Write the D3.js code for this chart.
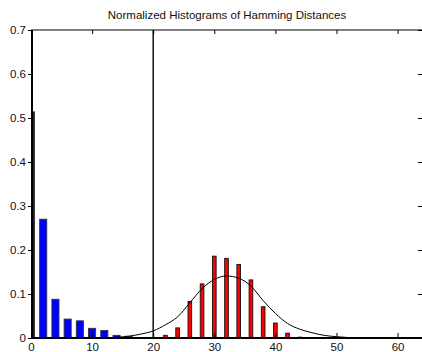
<!doctype html>
<html lang="en">
<head>
<meta charset="UTF-8">
<title>Normalized Histograms of Hamming Distances</title>
<script src="https://cdn.jsdelivr.net/npm/d3@7"></script>
<style>
    body { margin: 0; background: #fff; }
    text { font-family: "Liberation Sans", Arial, Helvetica, sans-serif; fill: #111; }
</style>
</head>
<body>
<div id="chartDiv"></div>
<script>
// same-class distances (blue)
const blueBins = [0, 2, 4, 6, 8, 10, 12, 14, 16, 18]
const blueVals = [0.514, 0.27, 0.088, 0.043, 0.039, 0.022, 0.017, 0.006, 0.004, 0.001]

// different-class distances (red)
const redBins = [22, 24, 26, 28, 30, 32, 34, 36, 38, 40, 42, 44]
const redVals = [0.006, 0.023, 0.083, 0.123, 0.186, 0.181, 0.167, 0.132, 0.071, 0.034, 0.011, 0.002]

// fitted curve
const curveX = [14, 16, 18, 20, 22, 24, 26, 28, 30, 32, 34, 36, 38, 40, 42, 44, 46, 48, 50, 52, 54]
const curveY = [0.002, 0.004, 0.009, 0.016, 0.03, 0.048, 0.08, 0.112, 0.133, 0.141, 0.136, 0.118, 0.085, 0.056, 0.033, 0.02, 0.012, 0.006, 0.003, 0.001, 0]

const threshold = 20
const xTicks = [0, 10, 20, 30, 40, 50, 60]
const yTicks = [0, 0.1, 0.2, 0.3, 0.4, 0.5, 0.6, 0.7]
const title = 'Normalized Histograms of Hamming Distances'

const svgWidth = 422, svgHeight = 352
const plotLeft = 31, plotRight = 422, plotTop = 30, plotBottom = 338

const svg = d3.select('#chartDiv').append('svg')
    .attr('width', svgWidth)
    .attr('height', svgHeight)

const x = d3.scaleLinear().domain([0, 64]).range([plotLeft, plotRight])
const y = d3.scaleLinear().domain([0, 0.7]).range([plotBottom, plotTop])

svg.append('clipPath').attr('id', 'plotClip')
    .append('rect')
    .attr('x', plotLeft).attr('y', plotTop)
    .attr('width', plotRight - plotLeft).attr('height', plotBottom - plotTop)

const plot = svg.append('g').attr('clip-path', 'url(#plotClip)')

// blue bars
plot.selectAll('.blueBar')
    .data(blueBins)
    .join('rect')
    .attr('class', 'blueBar')
    .attr('x', (d) => x(d - 0.58))
    .attr('width', x(1.16) - x(0))
    .attr('y', (d, i) => y(blueVals[i]))
    .attr('height', (d, i) => y(0) - y(blueVals[i]))
    .attr('fill', '#0000ff')
    .attr('stroke', '#333')
    .attr('stroke-width', 0.9)

// red bars
plot.selectAll('.redBar')
    .data(redBins)
    .join('rect')
    .attr('class', 'redBar')
    .attr('x', (d) => x(d - 0.3))
    .attr('width', x(0.6) - x(0))
    .attr('y', (d, i) => y(redVals[i]))
    .attr('height', (d, i) => y(0) - y(redVals[i]))
    .attr('fill', '#ff0000')
    .attr('stroke', '#111')
    .attr('stroke-width', 0.9)

// curve
const line = d3.line()
    .x((d) => x(d[0]))
    .y((d) => y(d[1]))
    .curve(d3.curveMonotoneX)

plot.append('path')
    .datum(curveX.map((d, i) => [d, curveY[i]]))
    .attr('d', line)
    .attr('fill', 'none')
    .attr('stroke', '#000')
    .attr('stroke-width', 1)

// threshold line
plot.append('line')
    .attr('x1', x(threshold)).attr('x2', x(threshold))
    .attr('y1', plotTop).attr('y2', plotBottom)
    .attr('stroke', '#000')
    .attr('stroke-width', 1.4)

/** axes */
svg.append('g')
    .attr('transform', 'translate(0,' + plotBottom + ')')
    .call(d3.axisBottom(x).tickValues(xTicks).tickSize(-5).tickPadding(5).tickFormat(d3.format('d')))
svg.append('g')
    .attr('transform', 'translate(0,' + plotTop + ')')
    .call(d3.axisTop(x).tickValues(xTicks).tickSize(-4).tickFormat(''))
svg.append('g')
    .attr('transform', 'translate(' + plotLeft + ',0)')
    .call(d3.axisLeft(y).tickValues(yTicks).tickSize(3).tickPadding(2).tickFormat((d) => d === 0 ? '0' : d3.format('.1f')(d)))
svg.append('g')
    .attr('transform', 'translate(' + plotRight + ',0)')
    .call(d3.axisRight(y).tickValues(yTicks).tickSize(-4).tickFormat(''))

svg.selectAll('.domain').remove()
svg.selectAll('.tick line').attr('stroke', '#000')
svg.selectAll('.tick text')
    .style('font-size', '11.5px')
    .style('font-family', '"Liberation Sans", Arial, sans-serif')
    .attr('fill', '#111')

// box lines
svg.append('line')
    .attr('x1', plotLeft).attr('x2', plotRight).attr('y1', plotTop).attr('y2', plotTop)
    .attr('stroke', '#000').attr('stroke-width', 1.2)
svg.append('line')
    .attr('x1', plotLeft + 1).attr('x2', plotLeft + 1).attr('y1', plotTop).attr('y2', plotBottom + 1)
    .attr('stroke', '#000').attr('stroke-width', 2)
svg.append('line')
    .attr('x1', plotLeft).attr('x2', plotRight).attr('y1', plotBottom).attr('y2', plotBottom)
    .attr('stroke', '#000').attr('stroke-width', 2)

// title
svg.append('text')
    .attr('x', (plotLeft + plotRight) / 2 + 0.5)
    .attr('y', 19)
    .attr('text-anchor', 'middle')
    .style('font-size', '11.5px')
    .text(title)
</script>
</body>
</html>
